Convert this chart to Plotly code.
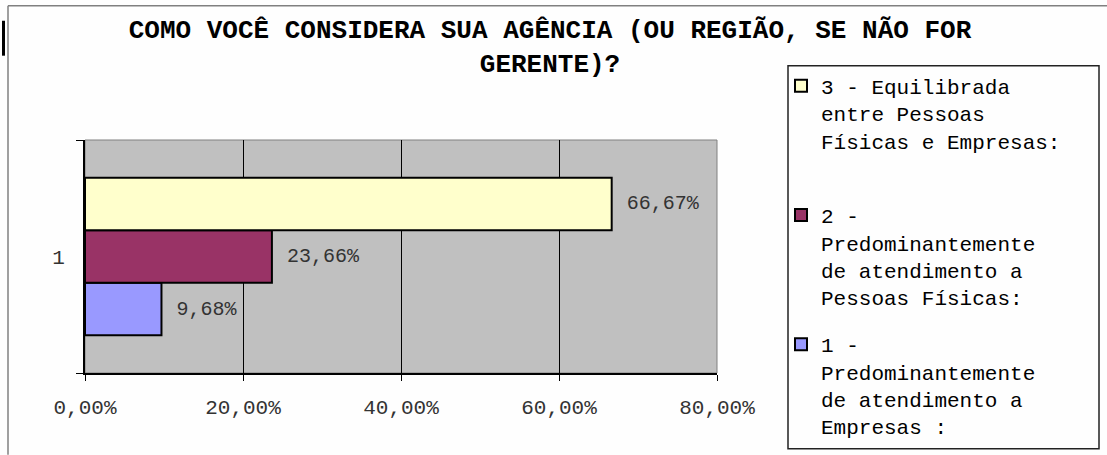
import plotly.graph_objects as go

# ---- data ----
category = ["1"]
series_names = [
    "1 -<br>Predominantemente<br>de atendimento a<br>Empresas :",
    "2 -<br>Predominantemente<br>de atendimento a<br>Pessoas Físicas:",
    "3 - Equilibrada<br>entre Pessoas<br>Físicas e Empresas:<br> ",
]
series_values = [0.0968, 0.2366, 0.6667]
series_colors = ["#9999FF", "#993366", "#FFFFCC"]
legend_ranks = [3, 2, 1]
x_ticks = [0, 0.2, 0.4, 0.6, 0.8]
title_text = "COMO VOCÊ CONSIDERA SUA AGÊNCIA (OU REGIÃO, SE NÃO FOR<br>GERENTE)?"

MONO = "Liberation Mono, Courier New, monospace"

W, H = 1107, 455
L, R, T, B = 85, 390, 139.5, 82
PW = W - L - R
PH = H - T - B


def px_x(x):
    return (x - L) / PW


def px_y(y):
    return (H - B - y) / PH


fig = go.Figure()
for i, (name, val, col, rk) in enumerate(zip(series_names, series_values, series_colors, legend_ranks)):
    fig.add_trace(go.Bar(
        y=category, x=[val], name=name, orientation="h",
        marker=dict(color=col, line=dict(color="black", width=2)),
        texttemplate="\u00a0%{x:.2%}", textposition="outside",
        textfont=dict(family=MONO, size=20, color="#333333"),
        constraintext="none", cliponaxis=False,
        legendgroup=f"g{i}", legendrank=rk,
    ))

shapes = [
    # outer frame (top and left)
    dict(type="line", xref="paper", yref="paper", x0=px_x(8), x1=px_x(1107), y0=px_y(5), y1=px_y(5),
         line=dict(color="#808080", width=1.5)),
    dict(type="line", xref="paper", yref="paper", x0=px_x(8), x1=px_x(8), y0=px_y(5), y1=px_y(455),
         line=dict(color="#808080", width=1.5)),
    # black mark at left
    dict(type="rect", xref="paper", yref="paper", x0=px_x(2), x1=px_x(5), y0=px_y(55), y1=px_y(20),
         fillcolor="black", line=dict(width=0)),
    # plot area border (top/right, grey)
    dict(type="rect", xref="paper", yref="paper", x0=0, x1=1, y0=0, y1=1,
         line=dict(color="#808080", width=1), layer="below"),
    # legend box
    dict(type="rect", xref="paper", yref="paper", x0=px_x(788), x1=px_x(1099), y0=px_y(449), y1=px_y(65),
         line=dict(color="#222222", width=1.5), fillcolor="rgba(0,0,0,0)"),
]

fig.update_layout(
    width=W, height=H,
    margin=dict(l=L, r=R, t=T, b=B, autoexpand=False),
    paper_bgcolor="#FEFEFE", plot_bgcolor="#C0C0C0",
    separators=",.",
    barmode="group", bargap=0.323, bargroupgap=0,
    title=dict(text="<b>" + title_text + "</b>", xref="container", x=550 / W, xanchor="center",
               yref="container", y=1 - 38 / H, yanchor="top",
               font=dict(family=MONO, size=26, color="black")),
    xaxis=dict(range=[0, 0.8], tickvals=x_ticks, tickformat=".2%",
               showgrid=True, gridcolor="black", gridwidth=1, zeroline=False,
               showline=True, linecolor="black", linewidth=2,
               ticks="outside", ticklen=6, tickcolor="black", tickwidth=1,
               ticklabelstandoff=8,
               tickfont=dict(family=MONO, size=21, color="#333333")),
    yaxis=dict(type="category", range=[-0.5, 0.5], tickson="boundaries",
               showgrid=False, zeroline=False,
               showline=True, linecolor="black", linewidth=2,
               ticks="outside", ticklen=7, tickcolor="black", tickwidth=1,
               ticklabelstandoff=14,
               tickfont=dict(family=MONO, size=21, color="#333333")),
    legend=dict(x=px_x(781), y=px_y(65), xanchor="left", yanchor="top",
                traceorder="grouped", tracegroupgap=17, valign="top",
                bgcolor="rgba(0,0,0,0)", borderwidth=0,
                font=dict(family=MONO, size=21, color="black"),
                itemwidth=30, maxheight=420),
    shapes=shapes,
)

fig.write_html("out.html", config={"displayModeBar": False},
               post_script="document.body.style.margin='0';")
